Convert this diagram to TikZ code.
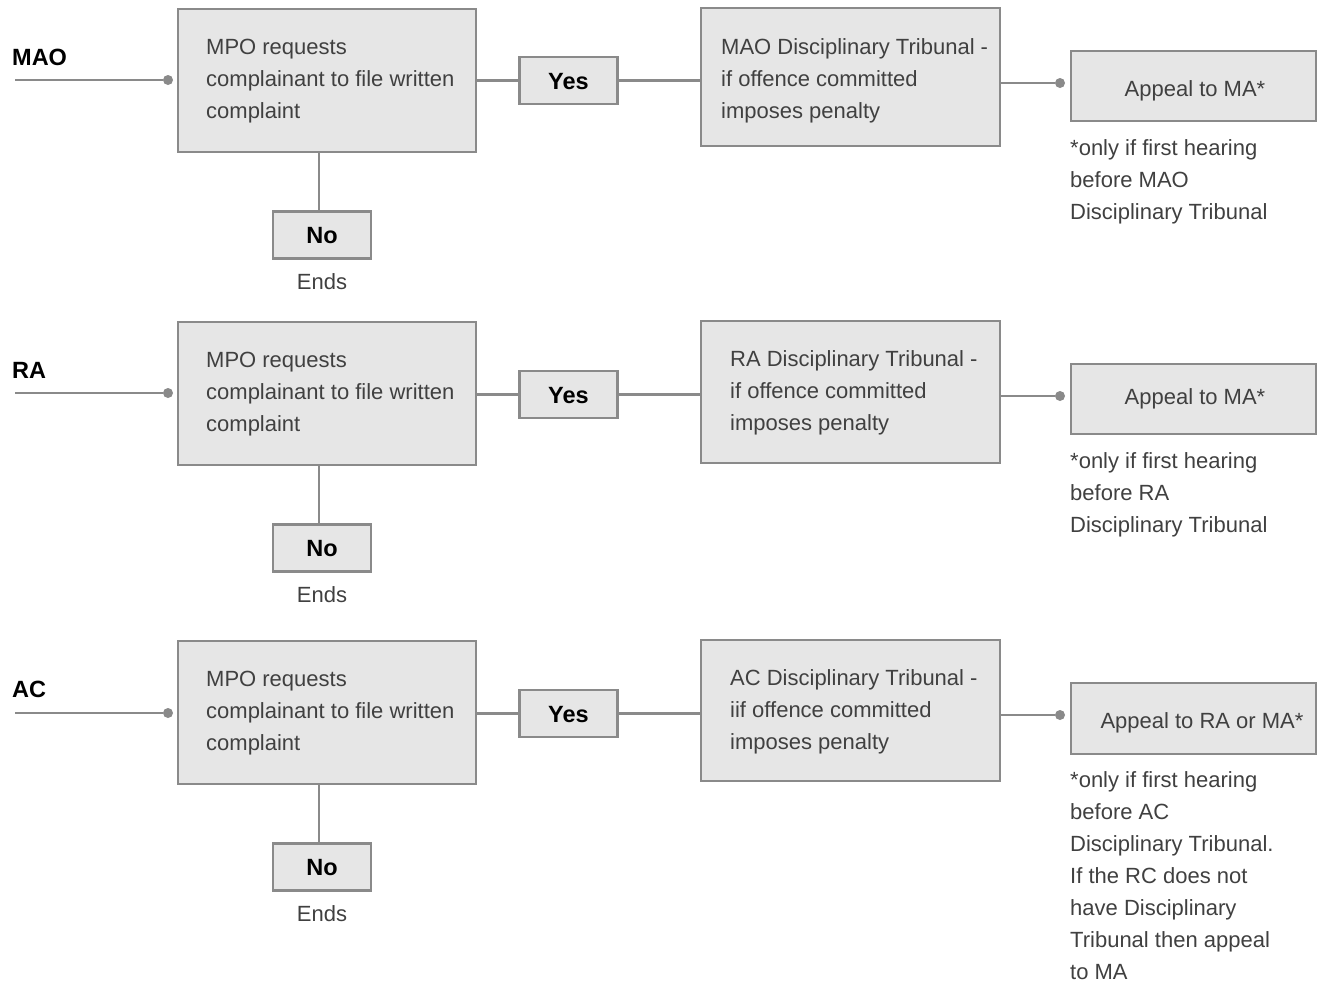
\documentclass[tikz,border=0pt]{standalone}
\usepackage{fontspec}
\setmainfont{Liberation Sans}
\begin{document}
\definecolor{boxfill}{HTML}{E6E6E6}
\definecolor{boxline}{HTML}{8A8A8A}
\definecolor{ink}{HTML}{404040}
\begin{tikzpicture}[x=1pt,y=-1pt,
  box/.style={draw=boxline,line width=2.6pt,fill=boxfill,inner sep=0pt},
  yn/.style={box,minimum width=98pt,minimum height=47pt,text height=17pt,text depth=0pt,
    font=\fontsize{23.5}{26}\selectfont\bfseries,text=black},
  txt/.style={inner sep=0pt,align=left,text=ink,font=\fontsize{22}{32}\selectfont,anchor=base west},
  ctxt/.style={inner sep=0pt,text=ink,font=\fontsize{22}{32}\selectfont,anchor=base},
  lbl/.style={inner sep=0pt,text=black,font=\fontsize{23.5}{26}\selectfont\bfseries,anchor=base west},
  conn/.style={draw=boxline,line width=2.3pt},
  dot/.style={circle,fill=boxline,inner sep=0pt,minimum size=10pt}]
\useasboundingbox (0,0) rectangle (1323,994);
% multi-line text nodes are placed by the baseline of their last line

% ---------- MAO ----------
\node[lbl] (maoL) at (12,65) {MAO};
\coordinate (maoIn) at (15,80);
\node[dot] (maoDot) at (168,80) {};
\node[box,minimum width=298pt,minimum height=143pt] (maoB1) at (327,80.5) {};
\node[txt] (maoT1) at (206,118) {MPO requests\\complainant to file written\\complaint};
\node[yn] (maoYes) at (568.5,80.5) {Yes};
\node[box,minimum width=299pt,minimum height=138pt] (maoB2) at (850.5,77) {};
\node[txt] (maoT2) at (721,118) {MAO Disciplinary Tribunal -\\if offence committed\\imposes penalty};
\node[dot] (maoDot2) at (1060,83) {};
\node[box,minimum width=245pt,minimum height=70pt] (maoAp) at (1193.5,86) {};
\node[ctxt] (maoApT) at (1195,96) {Appeal to MA*};
\node[txt] (maoNote) at (1070,219) {*only if first hearing\\before MAO\\Disciplinary Tribunal};
\node[yn] (maoNo) at (322,235) {No};
\node[ctxt] (maoEnds) at (322,289) {Ends};
\draw[conn] (maoIn) -- (maoDot);
\draw[conn] (maoB1.east |- maoYes) -- (maoYes.west);
\draw[conn] (maoYes.east) -- (maoYes.east -| maoB2.west);
\draw[conn] (maoB2.east |- maoDot2) -- (maoDot2);
\draw[conn] (maoNo.north -| 319,0) -- (maoB1.south -| 319,0);

% ---------- RA ----------
\node[lbl] (raL) at (12,378) {RA};
\coordinate (raIn) at (15,393);
\node[dot] (raDot) at (168,393) {};
\node[box,minimum width=298pt,minimum height=143pt] (raB1) at (327,393.5) {};
\node[txt] (raT1) at (206,431) {MPO requests\\complainant to file written\\complaint};
\node[yn] (raYes) at (568.5,394.5) {Yes};
\node[box,minimum width=299pt,minimum height=142pt] (raB2) at (850.5,392) {};
\node[txt] (raT2) at (730,430) {RA Disciplinary Tribunal -\\if offence committed\\imposes penalty};
\node[dot] (raDot2) at (1060,396) {};
\node[box,minimum width=245pt,minimum height=70pt] (raAp) at (1193.5,399) {};
\node[ctxt] (raApT) at (1195,404) {Appeal to MA*};
\node[txt] (raNote) at (1070,532) {*only if first hearing\\before RA\\Disciplinary Tribunal};
\node[yn] (raNo) at (322,548) {No};
\node[ctxt] (raEnds) at (322,602) {Ends};
\draw[conn] (raIn) -- (raDot);
\draw[conn] (raB1.east |- raYes) -- (raYes.west);
\draw[conn] (raYes.east) -- (raYes.east -| raB2.west);
\draw[conn] (raB2.east |- raDot2) -- (raDot2);
\draw[conn] (raNo.north -| 319,0) -- (raB1.south -| 319,0);

% ---------- AC ----------
\node[lbl] (acL) at (12,697) {AC};
\coordinate (acIn) at (15,713);
\node[dot] (acDot) at (168,713) {};
\node[box,minimum width=298pt,minimum height=143pt] (acB1) at (327,712.5) {};
\node[txt] (acT1) at (206,750) {MPO requests\\complainant to file written\\complaint};
\node[yn] (acYes) at (568.5,713.5) {Yes};
\node[box,minimum width=299pt,minimum height=141pt] (acB2) at (850.5,710.5) {};
\node[txt] (acT2) at (730,749) {AC Disciplinary Tribunal -\\iif offence committed\\imposes penalty};
\node[dot] (acDot2) at (1060,715) {};
\node[box,minimum width=245pt,minimum height=71pt] (acAp) at (1193.5,718.5) {};
\node[ctxt] (acApT) at (1202,728) {Appeal to RA or MA*};
\node[txt] (acNote) at (1070,979) {*only if first hearing\\before AC\\Disciplinary Tribunal.\\If the RC does not\\have Disciplinary\\Tribunal then appeal\\to MA};
\node[yn] (acNo) at (322,867) {No};
\node[ctxt] (acEnds) at (322,921) {Ends};
\draw[conn] (acIn) -- (acDot);
\draw[conn] (acB1.east |- acYes) -- (acYes.west);
\draw[conn] (acYes.east) -- (acYes.east -| acB2.west);
\draw[conn] (acB2.east |- acDot2) -- (acDot2);
\draw[conn] (acNo.north -| 319,0) -- (acB1.south -| 319,0);
\end{tikzpicture}
\end{document}
